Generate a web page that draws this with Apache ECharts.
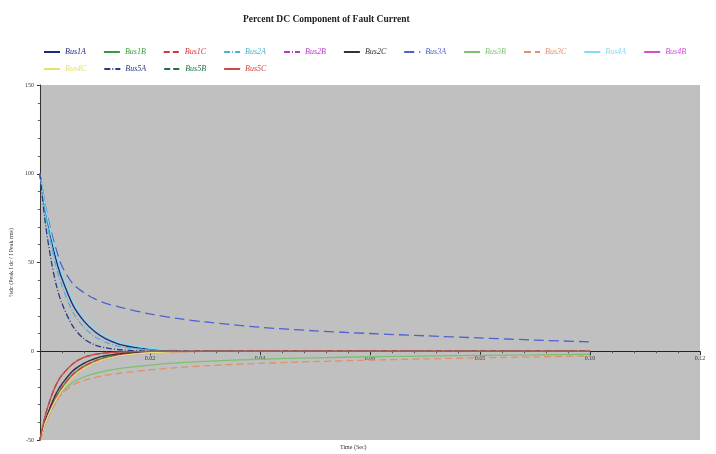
<!DOCTYPE html>
<html>
<head>
<meta charset="utf-8">
<script src="https://cdn.jsdelivr.net/npm/echarts@6/dist/echarts.min.js"></script>
<style>html,body{margin:0;padding:0;background:#fff}#c{width:716px;height:454px}</style>
</head>
<body>
<div id="c"></div>
<script>
// Time samples (s)
const time = [0, 0.001, 0.002, 0.003, 0.004, 0.006, 0.008, 0.010, 0.012, 0.015, 0.020, 0.025, 0.030, 0.040, 0.050, 0.060, 0.070, 0.080, 0.090, 0.100];

const bus1A = [100, 80, 64, 51, 41, 26, 17, 11, 7, 3.5, 1.2, 0.4, 0.1, 0, 0, 0, 0, 0, 0, 0];
const bus1B = [-50, -40, -32, -25.5, -20.5, -13, -8.5, -5.5, -3.5, -1.75, -0.6, -0.2, -0.05, 0, 0, 0, 0, 0, 0, 0];
const bus1C = [-50, -40, -32, -25.5, -20.5, -13, -8.5, -5.5, -3.5, -1.75, -0.6, -0.2, -0.05, 0, 0, 0, 0, 0, 0, 0];
const bus2A = [100, 78, 61, 47, 37, 22, 13.5, 8.2, 5, 2.4, 0.7, 0.2, 0.05, 0, 0, 0, 0, 0, 0, 0];
const bus2B = [-50, -39, -30.5, -23.5, -18.5, -11, -6.8, -4.1, -2.5, -1.2, -0.35, -0.1, 0, 0, 0, 0, 0, 0, 0, 0];
const bus2C = [-50, -39, -30.5, -23.5, -18.5, -11, -6.8, -4.1, -2.5, -1.2, -0.35, -0.1, 0, 0, 0, 0, 0, 0, 0, 0];
const bus3A = [100, 82, 68, 57, 48, 38, 33, 29.5, 27, 24.5, 21, 18.5, 16.5, 13.5, 11.5, 10, 8.7, 7.5, 6.3, 5.3];
const bus3B = [-50, -40, -33, -27.5, -23, -17.5, -14.5, -12.5, -11, -9.5, -7.8, -6.6, -5.7, -4.5, -3.7, -3.1, -2.7, -2.3, -2, -1.7];
const bus3C = [-50, -41, -34, -28.5, -24, -19, -16.5, -14.8, -13.5, -12.2, -10.5, -9.2, -8.2, -6.8, -5.8, -5, -4.3, -3.7, -3.2, -2.6];
const bus4A = [100, 81, 66, 54, 44, 29, 19.5, 13, 8.6, 4.7, 1.7, 0.6, 0.2, 0, 0, 0, 0, 0, 0, 0];
const bus4B = [-50, -40.5, -33, -27, -22, -14.5, -9.8, -6.5, -4.3, -2.35, -0.85, -0.3, -0.1, 0, 0, 0, 0, 0, 0, 0];
const bus4C = [-50, -40.5, -33, -27, -22, -14.5, -9.8, -6.5, -4.3, -2.35, -0.85, -0.3, -0.1, 0, 0, 0, 0, 0, 0, 0];
const bus5A = [100, 72, 52, 37, 27, 14, 7, 3.6, 1.9, 0.7, 0.1, 0, 0, 0, 0, 0, 0, 0, 0, 0];
const bus5B = [-50, -36, -26, -18.5, -13.5, -7, -3.5, -1.8, -0.95, -0.35, -0.05, 0, 0, 0, 0, 0, 0, 0, 0, 0];
const bus5C = [-50, -36, -26, -18.5, -13.5, -7, -3.5, -1.8, -0.95, -0.35, -0.05, 0, 0, 0, 0, 0, 0, 0, 0, 0];

const seriesNames = ['Bus1A','Bus1B','Bus1C','Bus2A','Bus2B','Bus2C','Bus3A','Bus3B','Bus3C','Bus4A','Bus4B','Bus4C','Bus5A','Bus5B','Bus5C'];
const seriesValues = [bus1A,bus1B,bus1C,bus2A,bus2B,bus2C,bus3A,bus3B,bus3C,bus4A,bus4B,bus4C,bus5A,bus5B,bus5C];
const seriesColors = ['#1c2a80','#3a9a3a','#d03a3a','#4ab4d0','#b040c0','#333333','#5060d0','#7cc070','#e0906a','#80dcef','#d050d0','#e6e070','#2a3a8a','#207040','#d04848'];
const seriesDash = ['solid','solid',[6,3],[6,2,1,2],[6,2,1,2],'solid',[10,5],'solid',[7,4],'solid','solid','solid',[6,2,1,2],[6,3],'solid'];

const chart = echarts.init(document.getElementById('c'));
const serif = '"Liberation Serif", "DejaVu Serif", serif';

const series = seriesNames.map((n, i) => ({
  name: n,
  type: 'line',
  symbol: 'none',
  showSymbol: false,
  smooth: 0.3,
  data: time.map((t, k) => [t, seriesValues[i][k]]),
  lineStyle: { color: seriesColors[i], width: 1.3, type: seriesDash[i] },
  itemStyle: { color: seriesColors[i] },
  z: 3
}));

function legendRow(names, top) {
  return {
    left: 38, top: top, width: 676,
    itemWidth: 16, itemHeight: 8, itemGap: 17,
    itemStyle: { opacity: 0 },
    data: names.map(n => ({ name: n, textStyle: { color: seriesColors[seriesNames.indexOf(n)] } })),
    textStyle: { fontFamily: serif, fontStyle: 'italic', fontSize: 8 }
  };
}

chart.setOption({
  animation: false,
  backgroundColor: '#ffffff',
  title: {
    text: 'Percent DC Component of Fault Current',
    left: 238, top: 10,
    textStyle: { fontFamily: serif, fontWeight: 'bold', fontSize: 9.5, color: '#222' }
  },
  legend: [
    legendRow(seriesNames.slice(0, 11), 43),
    legendRow(seriesNames.slice(11), 60)
  ],
  grid: {
    left: 38, right: 16, top: 85, bottom: 14,
    show: true, backgroundColor: '#c0c0c0', borderWidth: 0
  },
  xAxis: {
    type: 'value', min: 0, max: 0.12, interval: 0.02,
    offset: -88.75,
    axisLine: { onZero: false, lineStyle: { color: '#222', width: 1 } },
    axisTick: { show: true, inside: false, length: 4, lineStyle: { color: '#333' } },
    minorTick: { show: true, splitNumber: 5, length: 2, lineStyle: { color: '#555' } },
    splitLine: { show: false },
    axisLabel: { showMinLabel: false, fontSize: 6, color: '#333', fontFamily: serif, margin: 4,
      formatter: v => v.toFixed(2) }
  },
  yAxis: {
    type: 'value', min: -50, max: 150, interval: 50,
    name: '%dc (Peak I dc / I Peak rms)', nameLocation: 'middle', nameGap: 10, nameRotate: 90,
    nameTextStyle: { fontSize: 6, color: '#333', fontFamily: serif },
    axisLine: { show: true, onZero: false, lineStyle: { color: '#333' } },
    axisTick: { show: true, length: 3, lineStyle: { color: '#333' } },
    minorTick: { show: true, splitNumber: 5, length: 2, lineStyle: { color: '#555' } },
    splitLine: { show: false },
    axisLabel: { fontSize: 6, color: '#333', fontFamily: serif, margin: 6 }
  },
  graphic: [{
    type: 'text', left: 340, top: 444,
    style: { text: 'Time (Sec)', fontSize: 6, fill: '#333', fontFamily: serif }
  }],
  series: series
});
</script>
</body>
</html>
